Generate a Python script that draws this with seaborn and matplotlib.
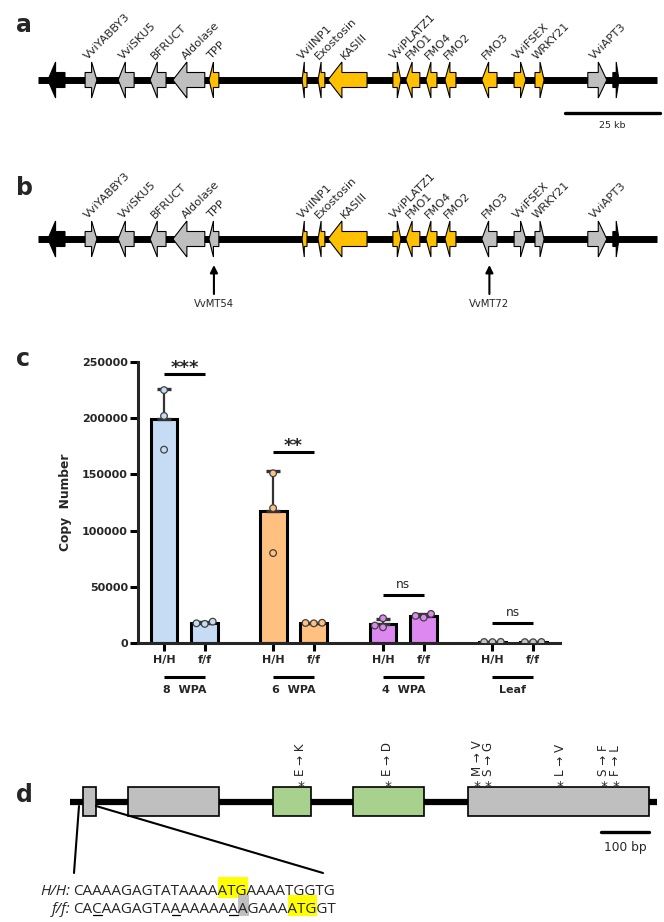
import numpy as np
import pandas as pd
import matplotlib
matplotlib.use("Agg")
import matplotlib.pyplot as plt
from matplotlib.patches import Polygon, Rectangle
from matplotlib.lines import Line2D
from matplotlib.transforms import Affine2D
from matplotlib.font_manager import FontProperties
import seaborn as sns

sns.set_theme(style="ticks")
plt.rcParams['font.family'] = ['DejaVu Sans']

W, H = 664, 922

# ---- panels a/b: locus map (kb) ----
gene_names = ["", "VviYABBY3", "VviSKU5", "BFRUCT", "Aldolase", "TPP", "VviINP1",
              "Exostosin", "KASIII", "VviPLATZ1", "FMO1", "FMO4", "FMO2", "FMO3",
              "VviFSEX", "WRKY21", "VviAPT3", ""]
gene_start = [2.6, 12.4, 21.1, 29.5, 35.5, 45.0, 69.5, 73.7, 76.3, 93.4, 96.8,
              102.1, 107.1, 116.8, 125.3, 130.8, 144.7, 151.3]
gene_end = [7.1, 15.5, 25.3, 33.7, 43.9, 47.6, 70.8, 75.5, 86.6, 95.5, 100.5,
            105.0, 110.0, 120.8, 128.4, 133.2, 149.7, 152.9]
gene_strand = [-1, 1, -1, -1, -1, -1, -1, -1, -1, 1, -1, -1, -1, -1, 1, 1, 1, 1]
kind_a = ["k", "g", "g", "g", "g", "y", "y", "y", "y", "y", "y", "y", "y", "y", "y", "y", "g", "k"]
kind_b = ["k", "g", "g", "g", "g", "g", "y", "y", "y", "y", "y", "y", "y", "g", "g", "g", "g", "k"]
locus_kb = 163.0
mutants = ["VvMT54", "VvMT72"]
mutant_genes = ["TPP", "FMO3"]

# ---- panel c: copy number ----
wpa8_hh = [172000, 202000, 225000]
wpa8_ff = [17000, 19000, 17500]
wpa6_hh = [80000, 120000, 151000]
wpa6_ff = [17500, 18000, 17800]
wpa4_hh = [14000, 15500, 22000]
wpa4_ff = [22600, 25900, 24100]
leaf_hh = [800, 1000, 900]
leaf_ff = [700, 900, 800]
groups = ["8  WPA", "6  WPA", "4  WPA", "Leaf"]
genotypes = ["H/H", "f/f"]
sig_labels = ["***", "**", "ns", "ns"]
sig_y = [239000, 169500, 43000, 18000]

# ---- panel d: gene model (bp) ----
exon_start = [27, 121, 423, 590, 829]
exon_end = [54, 310, 502, 737, 1206]
exon_kind = ["g", "g", "v", "v", "g"]
gene_bp = 1223
mut_bp = [481, 662, 848, 871, 1021, 1112, 1137]
mut_labels = ["E → K", "E → D", "M → V", "S → G", "L → V", "S → F", "F → L"]
seq_hh = "CAAAAGAGTATAAAAATGAAAATGGTG"
seq_ff = "CACAAGAGTAAAAAAAAAGAAAATGGT"

fill = {"k": "black", "g": "#BFBFBF", "y": "#FFC000", "v": "#A9D18E"}

fig = plt.figure(figsize=(W / 100, H / 100), dpi=100)
pix = Affine2D().scale(1 / W, -1 / H).translate(0, 1) + fig.transFigure


def px_axes(x0, y0, x1, y1):
    return fig.add_axes([x0 / W, 1 - y1 / H, (x1 - x0) / W, (y1 - y0) / H])


def ftext(x, y, s, **kw):
    return fig.text(x, y, s, transform=pix, **kw)


def draw_gene(ax, start, end, strand, color, yc, kb_px=3.8):
    length = end - start
    hl = min(14 / kb_px, 0.45 * length)
    body, head = 7.5, 18
    if strand == 1:
        tip, base, tail = end, end - hl, start
    else:
        tip, base, tail = start, start + hl, end
    pts = [(tail, yc - body), (base, yc - body), (base, yc - head), (tip, yc),
           (base, yc + head), (base, yc + body), (tail, yc + body)]
    ax.add_patch(Polygon(pts, closed=True, facecolor=color, edgecolor="black",
                         lw=0.8, zorder=3))


def locus(ax, kinds, yc):
    ax.plot([0, locus_kb], [yc, yc], color="black", lw=5, solid_capstyle="butt", zorder=2)
    for name, s, e, st, k in zip(gene_names, gene_start, gene_end, gene_strand, kinds):
        draw_gene(ax, s, e, st, fill[k], yc)
        if name:
            ax.text((s + e) / 2 - 0.8, yc - 20, name, rotation=45, rotation_mode="anchor",
                    ha="left", va="baseline", fontsize=8.2)


ax_a = px_axes(38, 0, 660, 140)
ax_a.set_xlim(0, 163.7)
ax_a.set_ylim(140, 0)
ax_a.axis("off")
locus(ax_a, kind_a, 80)
ax_a.plot([138.7, 163.7], [113, 113], color="black", lw=2.4, clip_on=False)
ax_a.text(151.2, 125, "25 kb", ha="center", va="center", fontsize=6.8)

ax_b = px_axes(38, 140, 660, 320)
ax_b.set_xlim(0, 163.7)
ax_b.set_ylim(320, 140)
ax_b.axis("off")
locus(ax_b, kind_b, 239)
for m, g in zip(mutants, mutant_genes):
    i = gene_names.index(g)
    xc = (gene_start[i] + gene_end[i]) / 2
    ax_b.annotate("", xy=(xc, 265), xytext=(xc, 294),
                  arrowprops=dict(arrowstyle="-|>", color="black", lw=1.5,
                                  mutation_scale=11, shrinkA=0, shrinkB=0))
    ax_b.text(xc, 304, m, ha="center", va="center", fontsize=7.2)

# ---- panel c ----
reps = [wpa8_hh, wpa8_ff, wpa6_hh, wpa6_ff, wpa4_hh, wpa4_ff, leaf_hh, leaf_ff]
bar_pos = [0, 1, 2.68, 3.68, 5.38, 6.38, 8.07, 9.07]
group_colors = ["#C6DCF5", "#FFC080", "#DD88F0", "#C4C4C4"]
rows = []
for k, vals in enumerate(reps):
    for v in vals:
        rows.append({"pos": bar_pos[k], "group": groups[k // 2],
                     "genotype": genotypes[k % 2], "copies": v})
df = pd.DataFrame(rows)
pal = dict(zip(groups, group_colors))

ax_c = px_axes(138, 362, 560, 643)
sns.barplot(data=df, x="pos", y="copies", hue="group", palette=pal, native_scale=True,
            dodge=False, errorbar=None, width=0.66, saturation=1, edgecolor="black",
            linewidth=2.2, legend=False, ax=ax_c, zorder=1)
for k, vals in enumerate(reps):
    m, sd = np.mean(vals), np.std(vals, ddof=1)
    ax_c.errorbar(bar_pos[k], m, yerr=[[0], [sd]], fmt="none", ecolor="#333333",
                  elinewidth=1.6, capsize=5, capthick=2.4, zorder=3)
sns.swarmplot(data=df, x="pos", y="copies", hue="group", palette=pal, native_scale=True,
              size=4.8, edgecolor="#404040", linewidth=0.9, legend=False, ax=ax_c, zorder=4)
ax_c.set_xlim(-0.64, 9.73)
ax_c.set_ylim(0, 250000)
ax_c.set_yticks([0, 50000, 100000, 150000, 200000, 250000])
ax_c.set_yticklabels(["0", "50000", "100000", "150000", "200000", "250000"],
                     fontsize=8, fontweight="bold")
ax_c.set_xticks(bar_pos)
ax_c.set_xticklabels(genotypes * 4, fontsize=8, fontweight="bold")
ax_c.set_xlabel("")
ax_c.set_ylabel("Copy  Number", fontsize=8.8, fontweight="bold", labelpad=7)
for s in ["top", "right"]:
    ax_c.spines[s].set_visible(False)
for s in ["left", "bottom"]:
    ax_c.spines[s].set_linewidth(2.2)
ax_c.tick_params(axis="both", direction="out", length=5.8, width=2.2, pad=1.5, color="black")
ax_c.tick_params(axis="x", pad=2.5)
trans = ax_c.get_xaxis_transform()
for g in range(4):
    x0, x1 = bar_pos[2 * g], bar_pos[2 * g + 1]
    ax_c.plot([x0, x1], [sig_y[g], sig_y[g]], color="black", lw=2.2, clip_on=False,
              solid_capstyle="butt")
    if sig_labels[g] == "ns":
        ax_c.annotate("ns", xy=((x0 + x1) / 2, sig_y[g]), xytext=(0, 5),
                      textcoords="offset points", ha="center", va="baseline", fontsize=8.7)
    else:
        ax_c.annotate(sig_labels[g], xy=((x0 + x1) / 2, sig_y[g]), xytext=(0, 0.8),
                      textcoords="offset points", ha="center", va="baseline",
                      fontsize=13, fontweight="bold")
    ax_c.plot([x0, x1], [-0.121, -0.121], color="black", lw=2.2, transform=trans,
              clip_on=False, solid_capstyle="butt")
    ax_c.text((x0 + x1) / 2, -0.168, groups[g], transform=trans, ha="center",
              va="center", fontsize=8, fontweight="bold")

# ---- panel d ----
ax_d = px_axes(70, 700, 657, 922)
ax_d.set_xlim(0, gene_bp)
ax_d.set_ylim(922, 700)
ax_d.axis("off")
ax_d.plot([0, gene_bp], [802, 802], color="black", lw=4.5, solid_capstyle="butt", zorder=2)
for s, e, k in zip(exon_start, exon_end, exon_kind):
    ax_d.add_patch(Rectangle((s, 787), e - s, 29, facecolor=fill[k], edgecolor="black",
                             lw=1.2, zorder=3))
for p, lab in zip(mut_bp, mut_labels):
    ax_d.text(p, 780, "*", ha="center", va="top", fontsize=10, zorder=4)
    ax_d.text(p, 776, lab, rotation=90, ha="center", va="bottom", fontsize=8.6)
ax_d.plot([1106, 1206], [832, 832], color="black", lw=2.4)
ax_d.text(1156, 847, "100 bp", ha="center", va="center", fontsize=8.8)

fig.add_artist(Line2D([79, 74], [806, 873], transform=pix, color="black", lw=1.5))
fig.add_artist(Line2D([96, 323], [806, 873], transform=pix, color="black", lw=1.5))

renderer = fig.canvas.get_renderer()
seq_prop = FontProperties(family="Open Sans", size=11)
lab_prop = FontProperties(family="Open Sans", size=11, style="italic")


def tw(s):
    if not s:
        return 0.0
    w, h, d = renderer.get_text_width_height_descent(s, seq_prop, ismath=False)
    return w


seq_rows = [("H/H:", seq_hh, 895, [(15, 18, "#FFFF00")], []),
            ("f/f:", seq_ff, 913, [(17, 18, "#BFBFBF"), (22, 25, "#FFFF00")], [2, 10, 16])]
x_seq = 73
for lab, seq, base, hls, unders in seq_rows:
    ftext(70, base, lab, ha="right", va="baseline", fontproperties=lab_prop)
    ftext(x_seq, base, seq, ha="left", va="baseline", fontproperties=seq_prop, zorder=3)
    for i, j, c in hls:
        xa = x_seq + tw(seq[:i]) + (0.5 if i else 0)
        xb = x_seq + tw(seq[:j]) + 1
        fig.add_artist(Rectangle((xa, base - 18), xb - xa, 21, transform=pix,
                                 facecolor=c, edgecolor="none", zorder=1))
    for i in unders:
        xa = x_seq + tw(seq[:i]) + 1
        xb = x_seq + tw(seq[:i + 1])
        fig.add_artist(Line2D([xa, xb], [base + 2, base + 2], transform=pix,
                              color="black", lw=0.9))

# panel letters
for letter, y in zip("abcd", [32, 195, 366, 802]):
    ftext(16, y, letter, ha="left", va="baseline", fontsize=17, fontweight="bold")

fig.savefig("out.png", dpi=100)
